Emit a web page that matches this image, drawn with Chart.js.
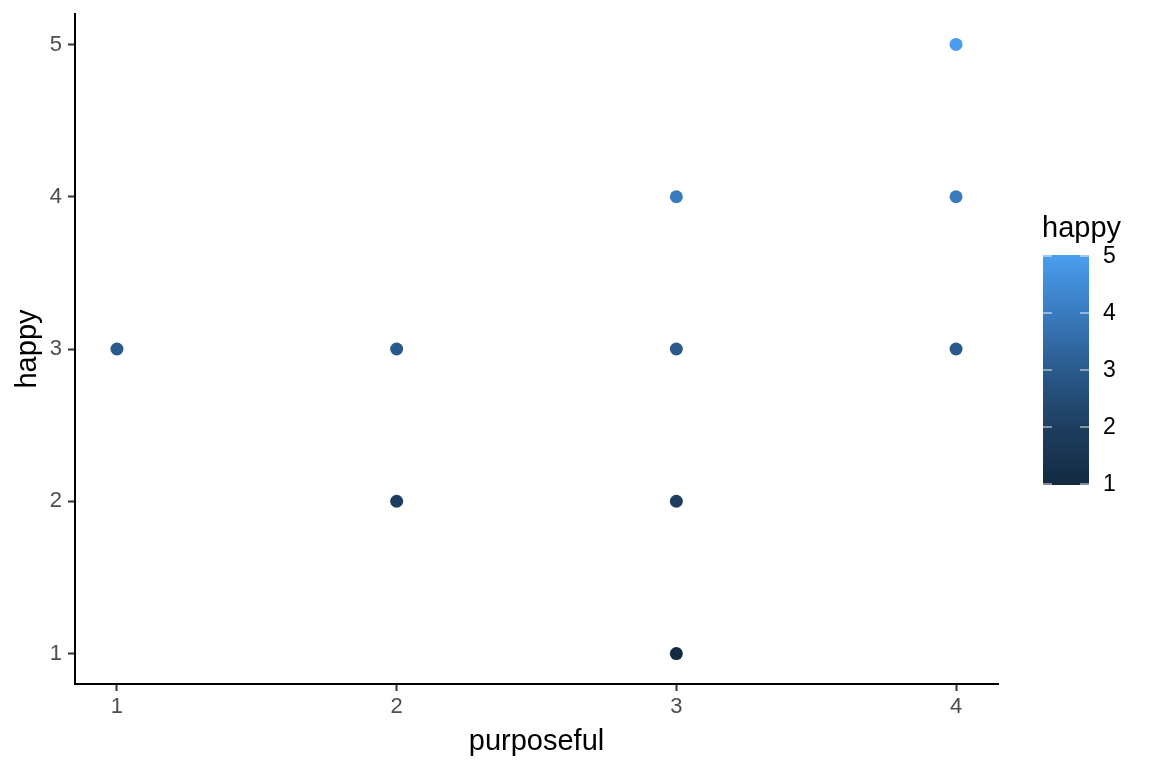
<!DOCTYPE html>
<html>
<head>
<meta charset="utf-8">
<script src="https://cdn.jsdelivr.net/npm/chart.js@4/dist/chart.umd.min.js"></script>
<style>
html,body{margin:0;padding:0;background:#fff;}
#wrap{width:1152px;height:768px;position:relative;}
</style>
</head>
<body>
<div id="wrap"><canvas id="c" width="1152" height="768"></canvas></div>
<script>
// Data
const purposeful = [1, 2, 2, 3, 3, 3, 3, 4, 4, 4];
const happy      = [3, 3, 2, 4, 3, 2, 1, 5, 4, 3];
const xTicks = [1, 2, 3, 4];
const yTicks = [1, 2, 3, 4, 5];
const legendTicks = [1, 2, 3, 4, 5];
const xTitle = 'purposeful';
const yTitle = 'happy';
const legendTitle = 'happy';

// colour palette (value 1 .. 5)
const palette = ['#132B43', '#1E3E5F', '#2A5A8C', '#3A7BC0', '#4A9DEE'];
const vmin = Math.min(...legendTicks), vmax = Math.max(...legendTicks);
function colorFor(v){ return palette[Math.round(v - vmin)]; }

const points = purposeful.map((x,i)=>({x:x,y:happy[i]}));
const pointColors = happy.map(colorFor);

const FONT = '"Liberation Sans", Arial, sans-serif';

const legendPlugin = {
  id:'colorbarLegend',
  afterDraw(chart){
    const ctx=chart.ctx;
    const bx=1043, bw=46, top=256, bottom=484;
    ctx.save();
    ctx.fillStyle='#000';
    ctx.font='29px '+FONT;
    ctx.textAlign='left';ctx.textBaseline='alphabetic';
    ctx.fillText(legendTitle,1042,237);
    // gradient bar
    const g=ctx.createLinearGradient(0,bottom,0,top);
    palette.forEach((c,i)=>g.addColorStop(i/(palette.length-1),c));
    ctx.fillStyle=g;
    ctx.fillRect(bx,top-1,bw,bottom-top+2);
    // ticks
    ctx.strokeStyle='rgba(255,255,255,0.9)';ctx.lineWidth=1;
    ctx.font='23px '+FONT;
    ctx.fillStyle='#000';
    ctx.textBaseline='middle';
    legendTicks.forEach(v=>{
      const y=bottom-(bottom-top)*(v-vmin)/(vmax-vmin);
      ctx.beginPath();ctx.moveTo(bx,y);ctx.lineTo(bx+9,y);ctx.moveTo(bx+bw-9,y);ctx.lineTo(bx+bw,y);ctx.stroke();
      ctx.fillText(String(v),1103,y+1);
    });
    ctx.restore();
  }
};

const tickFont={family:FONT,size:22};
const titleFont={family:FONT,size:29};

new Chart(document.getElementById('c'),{
  type:'scatter',
  data:{datasets:[{data:points,backgroundColor:pointColors,borderColor:pointColors,pointRadius:6.5,pointHoverRadius:6.5,borderWidth:0}]},
  options:{
    responsive:false,animation:false,devicePixelRatio:1,
    layout:{padding:{left:0,top:14,right:154,bottom:0}},
    plugins:{legend:{display:false},tooltip:{enabled:false}},
    scales:{
      x:{type:'linear',min:0.85,max:4.15,
        afterBuildTicks(s){s.ticks=xTicks.map(v=>({value:v}));},
        afterFit(s){s.height=84;s.paddingLeft=0;s.paddingRight=0;},
        grid:{display:true,drawOnChartArea:false,drawTicks:true,tickLength:7,tickColor:'#333',tickWidth:2},
        border:{display:true,color:'#000',width:2},
        ticks:{color:'#4D4D4D',font:tickFont,padding:3,maxRotation:0,callback:v=>String(v)},
        title:{display:true,text:xTitle,color:'#000',font:titleFont,padding:{top:0,bottom:9}}
      },
      y:{type:'linear',min:0.8,max:5.2,
        afterBuildTicks(s){s.ticks=yTicks.map(v=>({value:v}));},
        afterFit(s){s.width=75;s.paddingTop=0;s.paddingBottom=0;},
        grid:{display:true,drawOnChartArea:false,drawTicks:true,tickLength:7,tickColor:'#333',tickWidth:2},
        border:{display:true,color:'#000',width:2},
        ticks:{color:'#4D4D4D',font:tickFont,padding:6,callback:v=>String(v)},
        title:{display:true,text:yTitle,color:'#000',font:titleFont,padding:{top:11,bottom:0}}
      }
    }
  },
  plugins:[legendPlugin]
});
</script>
</body>
</html>
